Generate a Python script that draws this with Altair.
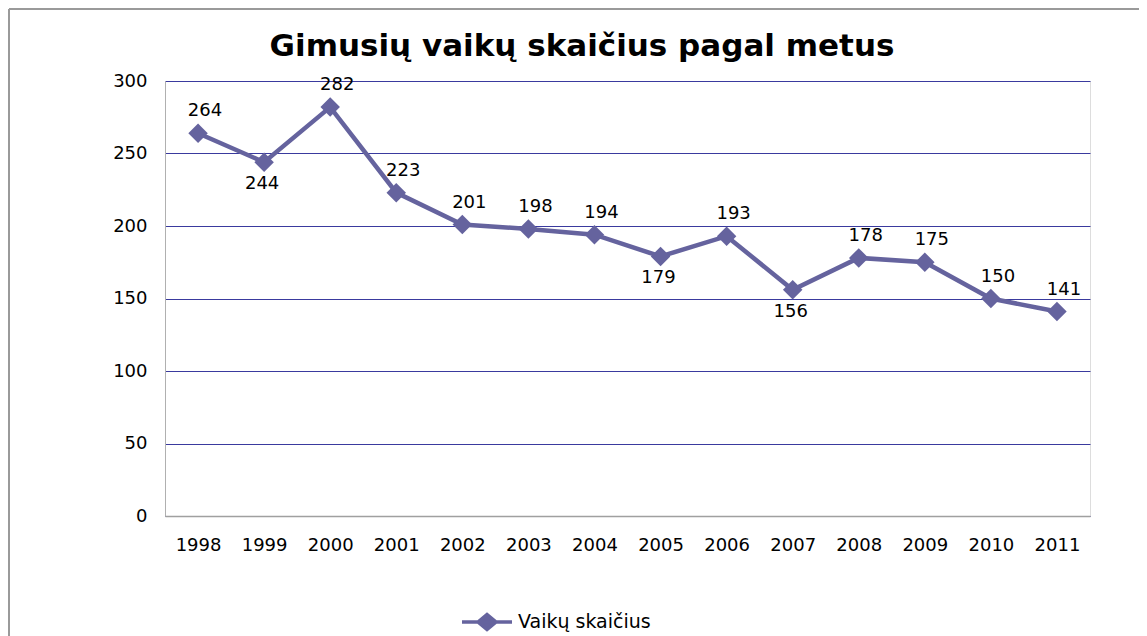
import altair as alt
import pandas as pd

years = ["1998", "1999", "2000", "2001", "2002", "2003", "2004",
         "2005", "2006", "2007", "2008", "2009", "2010", "2011"]
values = [264, 244, 282, 223, 201, 198, 194, 179, 193, 156, 178, 175, 150, 141]
placement = ["above", "below", "above", "above", "above", "above", "above",
             "below", "above", "below", "above", "above", "above", "above"]
series_name = "Vaikų skaičius"
title_text = "Gimusių vaikų skaičius pagal metus"

df = pd.DataFrame({"year": years, "value": values, "pos": placement,
                   "series": [series_name] * len(years)})

LINE = "#65639E"
FONT = "DejaVu Sans"
FS = 18

x_enc = alt.X("year:N", sort=years, title=None,
              scale=alt.Scale(paddingInner=0, paddingOuter=0.5),
              axis=alt.Axis(labelAngle=0, ticks=False, labelPadding=20,
                            domainColor="#A0A0A0", domainWidth=1.5,
                            labelFont=FONT, labelFontSize=FS, labelColor="#000000",
                            grid=False, zindex=1))
y_enc = alt.Y("value:Q", title=None,
              scale=alt.Scale(domain=[0, 300], nice=False),
              axis=alt.Axis(values=[0, 50, 100, 150, 200, 250, 300], ticks=False,
                            labelPadding=18, domainColor="#B0B0B0",
                            labelFont=FONT, labelFontSize=FS, labelColor="#000000",
                            grid=True, gridColor="#3A3A9E", gridWidth=1))

base = alt.Chart(df)

line = base.mark_line(
    strokeWidth=4.5,
    point=alt.OverlayMarkDef(shape="diamond", size=380, filled=True, color=LINE, opacity=1),
).encode(
    x=x_enc, y=y_enc,
    color=alt.Color("series:N", scale=alt.Scale(range=[LINE]),
                    legend=alt.Legend(title=None, orient="none", legendX=295, legendY=514,
                                      symbolType="M-1,0L1,0M-0.36,0L0,-0.3L0.36,0L0,0.3Z",
                                      symbolSize=2500, symbolStrokeWidth=3.5,
                                      symbolFillColor=LINE, symbolStrokeColor=LINE,
                                      labelFont=FONT, labelFontSize=19, labelColor="#000000",
                                      labelOffset=4)),
)

above = base.transform_filter(alt.datum.pos == "above").mark_text(
    font=FONT, fontSize=FS, color="#000000", dy=-22, dx=7
).encode(x=alt.X("year:N", sort=years), y="value:Q", text="value:Q")

below = base.transform_filter(alt.datum.pos == "below").mark_text(
    font=FONT, fontSize=FS, color="#000000", dy=22, dx=-2
).encode(x=alt.X("year:N", sort=years), y="value:Q", text="value:Q")

one = pd.DataFrame({"a": [0]})
title_mark = alt.Chart(one).mark_text(
    text=title_text, font=FONT, fontSize=31, fontWeight="bold", color="#000000",
    align="center", baseline="alphabetic"
).encode(x=alt.value(417), y=alt.value(-25))

border_left = alt.Chart(one).mark_rule(
    color="#9A9A9A", strokeWidth=2).encode(
    x=alt.value(-156), y=alt.value(-72), y2=alt.value(560))
border_top = alt.Chart(one).mark_rule(
    color="#9A9A9A", strokeWidth=2).encode(
    x=alt.value(-156), x2=alt.value(990), y=alt.value(-72))

chart = alt.layer(line, above, below, title_mark, border_left, border_top).properties(
    width=925, height=435,
    autosize=alt.AutoSizeParams(type="none"),
    padding={"left": 157, "top": 73, "right": 49, "bottom": 120},
).configure_view(
    fill="#E8ECF4", stroke=None
).configure(background="#FFFFFF")

chart.save("out.html", embed_options={"renderer": "svg", "actions": False})
